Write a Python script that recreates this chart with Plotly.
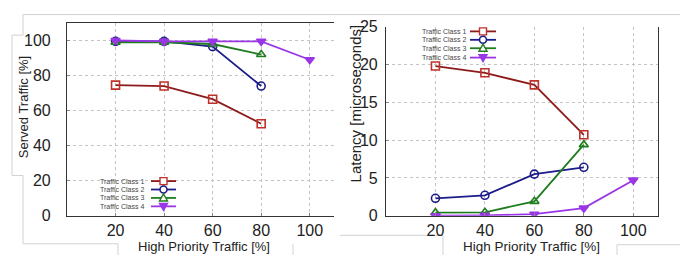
import plotly.graph_objects as go

# ---------------- data ----------------
load_pct = [20, 40, 60, 80]
load_pct_c4 = [20, 40, 60, 80, 100]
class_names = ["Traffic Class 1", "Traffic Class 2", "Traffic Class 3", "Traffic Class 4"]

served_c1 = [74.5, 74.0, 66.5, 52.5]
served_c2 = [99.5, 99.5, 96.5, 74.0]
served_c3 = [99.0, 99.0, 98.0, 92.0]
served_c4 = [100.0, 99.5, 99.5, 99.5, 89.0]

latency_c1 = [19.8, 18.9, 17.3, 10.7]
latency_c2 = [2.3, 2.7, 5.5, 6.4]
latency_c3 = [0.4, 0.45, 1.9, 9.4]
latency_c4 = [0.0, 0.05, 0.2, 1.0, 4.7]

x_ticks = [20, 40, 60, 80, 100]
served_ticks = [0, 20, 40, 60, 80, 100]
latency_ticks = [0, 5, 10, 15, 20, 25]

# ---------------- styles ----------------
W, H = 680, 264
line_colors = ["#8e1b1b", "#1c1c8a", "#1f7d1f", "#9a36e6"]
edge_colors = ["#c0302a", "#1c1c8a", "#1f7d1f", "#9a36e6"]
symbols = ["square-open", "circle-open", "triangle-up-open", "triangle-down"]
FONT = "Liberation Sans, Arial, sans-serif"

def px(x):
    return x / W

def py(y):
    return 1 - y / H

fig = go.Figure()

left_series = [(load_pct, served_c1), (load_pct, served_c2), (load_pct, served_c3), (load_pct_c4, served_c4)]
right_series = [(load_pct, latency_c1), (load_pct, latency_c2), (load_pct, latency_c3), (load_pct_c4, latency_c4)]

for i, (xs, ys) in enumerate(left_series):
    fig.add_trace(go.Scatter(
        x=xs, y=ys, mode="lines+markers", name=class_names[i], showlegend=False,
        line=dict(color=line_colors[i], width=1.8),
        marker=dict(symbol=symbols[i], size=8, color=edge_colors[i],
                    line=dict(color=edge_colors[i], width=1.6)),
        xaxis="x", yaxis="y"))

for i, (xs, ys) in enumerate(right_series):
    fig.add_trace(go.Scatter(
        x=xs, y=ys, mode="lines+markers", name=class_names[i], showlegend=False,
        line=dict(color=line_colors[i], width=1.8),
        marker=dict(symbol=symbols[i], size=8, color=edge_colors[i],
                    line=dict(color=edge_colors[i], width=1.6)),
        xaxis="x2", yaxis="y2"))

axis_common = dict(
    showgrid=True, gridcolor="#c4c4c4", griddash="dot", gridwidth=1,
    zeroline=False, showline=True, linecolor="#333333", linewidth=1.2,
    ticks="inside", ticklen=3, tickcolor="#888888",
    tickfont=dict(family=FONT, size=16, color="#222222"),
)

fig.update_layout(
    width=W, height=H, margin=dict(l=0, r=0, t=0, b=0),
    paper_bgcolor="white", plot_bgcolor="white", showlegend=False,
    xaxis=dict(domain=[px(67), px(334)], range=[0, 110], tickvals=x_ticks,
               mirror=True, anchor="y", **axis_common),
    yaxis=dict(domain=[py(222), py(16)], range=[0, 110], tickvals=served_ticks,
               mirror=False, anchor="x", ticklabelstandoff=12, **axis_common),
    xaxis2=dict(domain=[px(386), px(658)], range=[0, 110], tickvals=x_ticks,
                mirror=False, anchor="y2", **axis_common),
    yaxis2=dict(domain=[py(222), py(20)], range=[0, 25], tickvals=latency_ticks,
                mirror=True, anchor="x2", ticklabelstandoff=4, **axis_common),
)

ann = []
# axis titles
ann.append(dict(text="High Priority Traffic [%]", x=px(204), y=py(255), xref="paper", yref="paper",
                xanchor="center", yanchor="middle", showarrow=False,
                font=dict(family=FONT, size=13, color="#222222")))
ann.append(dict(text="High Priority Traffic [%]", x=px(531), y=py(255), xref="paper", yref="paper",
                xanchor="center", yanchor="middle", showarrow=False,
                font=dict(family=FONT, size=13.5, color="#222222")))
ann.append(dict(text="Served Traffic [%]", x=px(23), y=py(106), xref="paper", yref="paper", textangle=-90,
                xanchor="center", yanchor="middle", showarrow=False,
                font=dict(family=FONT, size=13, color="#222222")))
ann.append(dict(text="Latency [microseconds]", x=px(355), y=py(102), xref="paper", yref="paper", textangle=-90,
                xanchor="center", yanchor="middle", showarrow=False,
                font=dict(family=FONT, size=15, color="#222222")))

shapes = []
# hand-drawn legends (text left, key right)
legend_specs = [
    dict(text_right=146, key_x0=151, key_x1=176, rows=[185, 194, 203, 212]),
    dict(text_right=468, key_x0=470, key_x1=496, rows=[25, 34, 43, 53]),
]
key_paths = [
    "M-3.5,-3.5 L3.5,-3.5 L3.5,3.5 L-3.5,3.5 Z",
    None,
    "M-4,-3 L4,-3 L0,4 Z",
    "M-4,3 L4,3 L0,-4 Z",
]
for spec in legend_specs:
    for i, yrow in enumerate(spec["rows"]):
        ann.append(dict(text=class_names[i], x=px(spec["text_right"]), y=py(yrow), xref="paper", yref="paper",
                        xanchor="right", yanchor="middle", showarrow=False,
                        font=dict(family=FONT, size=7, color="#444444")))
        shapes.append(dict(type="line", xref="paper", yref="paper",
                           x0=px(spec["key_x0"]), x1=px(spec["key_x1"]), y0=py(yrow), y1=py(yrow),
                           line=dict(color=line_colors[i], width=1.8)))
        cx = px((spec["key_x0"] + spec["key_x1"]) / 2)
        fill = edge_colors[i] if i == 3 else "white"
        if key_paths[i] is None:
            shapes.append(dict(type="circle", xref="paper", yref="paper", xsizemode="pixel", ysizemode="pixel",
                               xanchor=cx, yanchor=py(yrow), x0=-3.5, x1=3.5, y0=-3.5, y1=3.5,
                               fillcolor="white", line=dict(color=edge_colors[i], width=1.6)))
        else:
            shapes.append(dict(type="path", xref="paper", yref="paper", xsizemode="pixel", ysizemode="pixel",
                               xanchor=cx, yanchor=py(yrow), path=key_paths[i],
                               fillcolor=fill, line=dict(color=edge_colors[i], width=1.4)))

# light frame lines of the composite picture
frame = [
    (23, 7, 680, 7), (23, 7, 23, 29), (12, 29, 23, 29), (12, 29, 12, 179), (12, 179, 23, 179),
    (23, 179, 23, 252), (23, 252, 118, 252), (118, 252, 118, 264),
    (293, 252, 293, 264),
    (340, 243, 443, 243), (443, 243, 443, 264),
    (617, 253, 680, 253), (617, 253, 617, 264),
]
for x0, y0, x1, y1 in frame:
    shapes.append(dict(type="line", xref="paper", yref="paper", x0=px(x0), y0=py(y0), x1=px(x1), y1=py(y1),
                       line=dict(color="#d2d2d2", width=1), layer="below"))

fig.update_layout(annotations=ann, shapes=shapes)
fig.write_html("out.html", config={"displayModeBar": False},
               post_script="document.body.style.margin='0';document.body.style.overflow='hidden';")
